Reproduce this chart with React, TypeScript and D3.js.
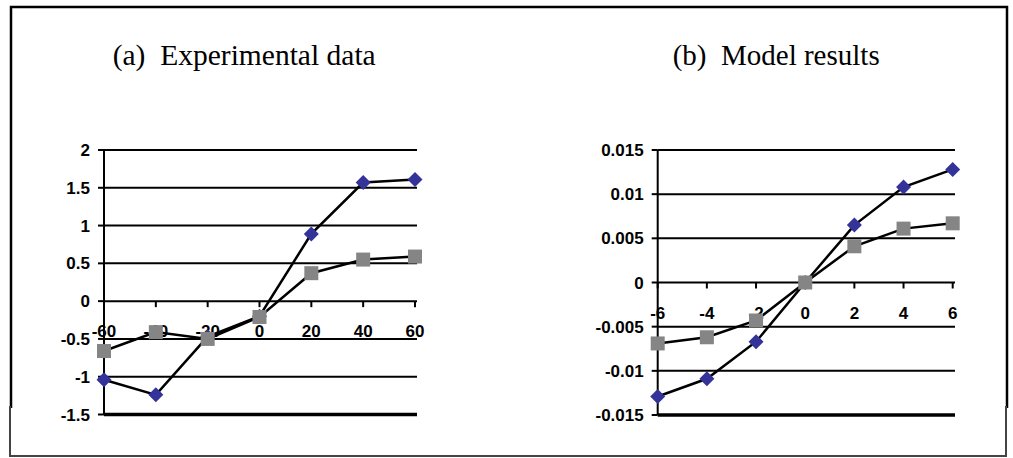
import React from 'react'
import * as d3 from 'd3'

// panel (a): experimental data
const expX = [-60, -40, -20, 0, 20, 40, 60]
const expBlue = [-1.04, -1.24, -0.47, -0.2, 0.89, 1.57, 1.61]
const expGray = [-0.66, -0.41, -0.5, -0.21, 0.37, 0.55, 0.59]
const expYTicks = [2, 1.5, 1, 0.5, 0, -0.5, -1, -1.5]
const expYLabels = ['2', '1.5', '1', '0.5', '0', '-0.5', '-1', '-1.5']

// panel (b): model results
const modX = [-6, -4, -2, 0, 2, 4, 6]
const modBlue = [-0.0129, -0.0109, -0.0067, 0, 0.0065, 0.0108, 0.0128]
const modGray = [-0.0069, -0.0062, -0.0043, 0, 0.0041, 0.0061, 0.0067]
const modYTicks = [0.015, 0.01, 0.005, 0, -0.005, -0.01, -0.015]
const modYLabels = ['0.015', '0.01', '0.005', '0', '-0.005', '-0.01', '-0.015']

const BLUE = '#333399'
const GRAY = '#858585'
const tickFont = { fontFamily: '"Liberation Sans", Arial, sans-serif', fontWeight: 'bold' as const, fontSize: 17 }
const diamond = 'M0,-7.5L7.5,0L0,7.5L-7.5,0Z'

type PanelProps = {
  title: string
  titleX: number
  titleW: number
  xs: number[]
  blue: number[]
  gray: number[]
  yTicks: number[]
  yLabels: string[]
  xRange: [number, number]
  yRange: [number, number]
  gridEnd: number
}

function Panel({ title, titleX, titleW, xs, blue, gray, yTicks, yLabels, xRange, yRange, gridEnd }: PanelProps) {
  const x = d3.scaleLinear().domain([xs[0], xs[xs.length - 1]]).range(xRange)
  const y = d3.scaleLinear().domain([yTicks[yTicks.length - 1], yTicks[0]]).range(yRange)
  const line = d3.line<number>().x((_, i) => x(xs[i])).y(d => y(d))
  const x0 = xRange[0]
  const zero = y(0)
  const bottom = yTicks[yTicks.length - 1]

  return (
    <g>
      <text x={titleX} y={65} textLength={titleW} lengthAdjust="spacingAndGlyphs"
        style={{ whiteSpace: 'pre', fontFamily: '"Liberation Serif", "Times New Roman", serif', fontSize: 29 }}>
        {title}
      </text>

      {/* gridlines */}
      {yTicks.map(t => (
        <line key={t} x1={x0} x2={gridEnd} y1={y(t)} y2={y(t)} stroke="#000"
          strokeWidth={t === bottom ? 3.5 : 2} />
      ))}
      {/* y axis */}
      <line x1={x0} x2={x0} y1={y(yTicks[0])} y2={y(bottom)} stroke="#000" strokeWidth={2} />
      {yTicks.map((t, i) => (
        <g key={'yt' + t}>
          <line x1={x0 - 6} x2={x0} y1={y(t)} y2={y(t)} stroke="#000" strokeWidth={2} />
          <text x={x0 - 14} y={y(t)} dy="0.36em" textAnchor="end" style={tickFont}>{yLabels[i]}</text>
        </g>
      ))}
      {/* x ticks on zero line */}
      {xs.map(v => (
        <g key={'xt' + v}>
          <line x1={x(v)} x2={x(v)} y1={zero} y2={zero + 6} stroke="#000" strokeWidth={2} />
          <text x={x(v)} y={zero + 30} dy="0.36em" textAnchor="middle" style={tickFont}>{v}</text>
        </g>
      ))}

      {/* series 1 */}
      <path d={line(blue) || ''} fill="none" stroke="#000" strokeWidth={2.5} />
      {blue.map((v, i) => (
        <path key={'b' + i} d={diamond} transform={`translate(${x(xs[i])},${y(v)})`} fill={BLUE} />
      ))}
      {/* series 2 */}
      <path d={line(gray) || ''} fill="none" stroke="#000" strokeWidth={2.5} />
      {gray.map((v, i) => (
        <rect key={'g' + i} x={x(xs[i]) - 7} y={y(v) - 7} width={14} height={14} fill={GRAY} />
      ))}
    </g>
  )
}

export default function App() {
  return (
    <svg width={1013} height={458} style={{ position: 'absolute', left: 0, top: 0, background: '#fff' }}>
      <rect width={1013} height={458} fill="#fff" />
      <path d="M11,408 V7 H1007 V408" fill="none" stroke="#000" strokeWidth={2.5} />
      <path d="M10,406 V456 H1006 V406" fill="none" stroke="#444" strokeWidth={2} />
      <Panel title="(a)  Experimental data" titleX={112.7} titleW={263}
        xs={expX} blue={expBlue} gray={expGray} yTicks={expYTicks} yLabels={expYLabels}
        xRange={[104, 415]} yRange={[414.5, 150]} gridEnd={417} />
      <Panel title="(b)  Model results" titleX={672.7} titleW={207}
        xs={modX} blue={modBlue} gray={modGray} yTicks={modYTicks} yLabels={modYLabels}
        xRange={[657.7, 952.7]} yRange={[415, 150]} gridEnd={955} />
    </svg>
  )
}
